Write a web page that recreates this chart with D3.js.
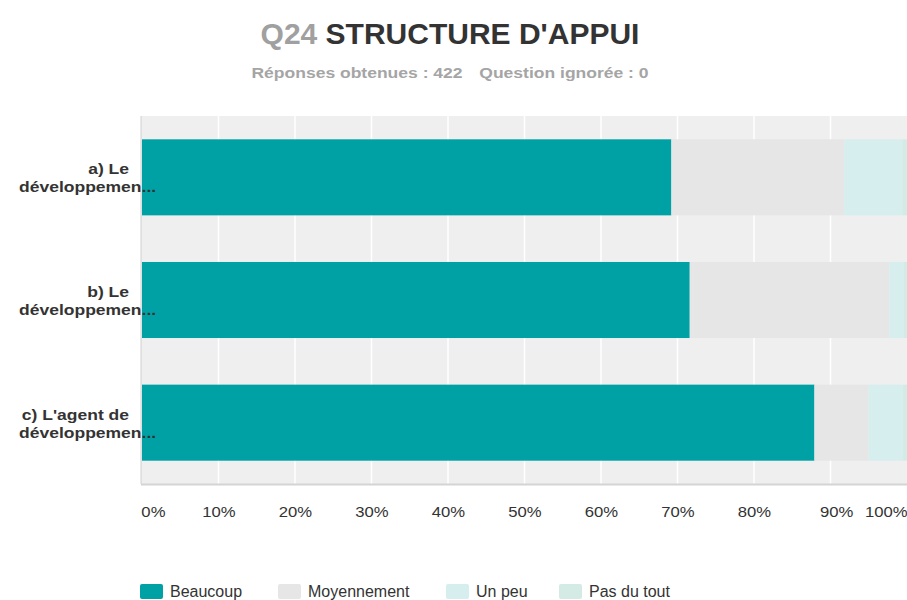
<!DOCTYPE html>
<html>
<head>
<meta charset="utf-8">
<script src="https://cdn.jsdelivr.net/npm/d3@7"></script>
<style>
  body { margin: 0; background: #fff; }
  svg { font-family: "Liberation Sans", Arial, sans-serif; }
</style>
</head>
<body>
<svg id="chart" width="907" height="600"></svg>
<script>
// data (percent)
var questions = ["a) Le|développemen...", "b) Le|développemen...", "c) L'agent de|développemen..."];
var answers = ["Beaucoup", "Moyennement", "Un peu", "Pas du tout"];
var beaucoup    = [69.2, 71.6, 87.9];
var moyennement = [22.6, 26.1, 7.1];
var unPeu       = [7.6, 1.9, 4.5];
var pasDuTout   = [0.6, 0.4, 0.5];
var tickValues = [0, 10, 20, 30, 40, 50, 60, 70, 80, 90, 100];
var colours = ["#00a1a4", "#e6e6e6", "#d6eeee", "#d3ebe4"];

var svg = d3.select("#chart"),
    margin = {top: 116, right: 0, bottom: 116, left: 142},
    width = +svg.attr("width") - margin.left - margin.right,
    height = +svg.attr("height") - margin.top - margin.bottom,
    g = svg.append("g").attr("transform", "translate(" + margin.left + "," + margin.top + ")");

var rows = questions.map(function(q, i) {
  return {q: q, "Beaucoup": beaucoup[i], "Moyennement": moyennement[i], "Un peu": unPeu[i], "Pas du tout": pasDuTout[i]};
});

var x = d3.scaleLinear().domain([0, 100]).range([0, width]);
var y = d3.scaleBand().domain(questions).range([0, height]).paddingInner(0.38).paddingOuter(0.19);
var z = d3.scaleOrdinal().domain(answers).range(colours);

// title
var title = svg.append("text")
    .attr("x", 450).attr("y", 44)
    .attr("text-anchor", "middle")
    .style("font-size", "30px").style("font-weight", "bold");
title.append("tspan").attr("fill", "#a0a0a0").text("Q24 ");
title.append("tspan").attr("fill", "#333").text("STRUCTURE D'APPUI");

// subtitle is a bit wider than tall in the picture
var sub = svg.append("text")
    .attr("transform", "translate(450,78) scale(1.2,1)")
    .attr("text-anchor", "middle")
    .attr("fill", "#a5a5a5")
    .style("font-size", "14.6px").style("font-weight", "bold");
sub.append("tspan").text("Réponses obtenues : 422");
sub.append("tspan").attr("dx", 14).text("Question ignorée : 0");

// plot background
g.append("rect")
    .attr("x", -1).attr("width", width + 1)
    .attr("height", height)
    .attr("fill", "#efefef");

g.append("g")
    .selectAll("line")
    .data(tickValues.slice(1, -1))
    .enter().append("line")
      .attr("x1", function(d) { return x(d); })
      .attr("x2", function(d) { return x(d); })
      .attr("y1", 0).attr("y2", height)
      .attr("stroke", "#fff").attr("stroke-width", 1.5);

g.append("line").attr("x1", -1).attr("x2", -1).attr("y1", 0).attr("y2", height).attr("stroke", "#d0d0d0");
g.append("line").attr("x1", -1).attr("x2", width).attr("y1", height + 0.5).attr("y2", height + 0.5).attr("stroke", "#d4d4d4").attr("stroke-width", 2);

// bars
g.selectAll(".serie")
  .data(d3.stack().keys(answers)(rows))
  .enter().append("g")
    .attr("class", "serie")
    .attr("fill", function(d) { return z(d.key); })
  .selectAll("rect")
  .data(function(d) { return d; })
  .enter().append("rect")
    .attr("y", function(d) { return y(d.data.q); })
    .attr("x", function(d) { return x(d[0]); })
    .attr("width", function(d) { return x(d[1]) - x(d[0]); })
    .attr("height", y.bandwidth());

// category labels, two lines each, slightly stretched like the picture
var lab = g.selectAll(".qlabel")
  .data(questions)
  .enter().append("g")
    .attr("class", "qlabel")
    .attr("transform", function(d) { return "translate(-13," + (y(d) + y.bandwidth() / 2) + ") scale(1.13,1)"; });
lab.append("text")
    .attr("y", -3)
    .attr("text-anchor", "end")
    .attr("fill", "#333")
    .style("font-size", "15.5px").style("font-weight", "bold")
    .text(function(d) { return d.split("|")[0]; });
lab.append("text")
    .attr("x", 24)
    .attr("y", 15)
    .attr("text-anchor", "end")
    .attr("fill", "#333")
    .style("font-size", "15.5px").style("font-weight", "bold")
    .text(function(d) { return d.split("|")[1]; });

// x axis
var axis = g.append("g")
    .attr("transform", "translate(0," + height + ")")
    .call(d3.axisBottom(x).tickValues(tickValues).tickSize(0).tickPadding(23).tickFormat(function(d) { return d + "%"; }));
axis.select(".domain").remove();
axis.selectAll("text")
    .attr("fill", "#333")
    .style("font-size", "14.5px")
    .style("font-family", "Liberation Sans, Arial, sans-serif")
    .attr("transform", "scale(1.15,1)")
    .attr("text-anchor", function(d) { return d === 0 ? "start" : d === 100 ? "end" : "middle"; })
    .attr("dx", function(d) { return d === 90 ? 5 : d === 0 ? -1 : 0; });

// legend
var legendX = [140, 278, 446, 559];
var legend = svg.selectAll(".legend")
  .data(answers)
  .enter().append("g")
    .attr("class", "legend")
    .attr("transform", function(d, i) { return "translate(" + legendX[i] + ",584)"; });
legend.append("rect")
    .attr("width", 23).attr("height", 15)
    .attr("rx", 2)
    .attr("fill", z);
legend.append("text")
    .attr("x", 30).attr("y", 7.5)
    .attr("dy", "0.35em")
    .attr("fill", "#333")
    .style("font-size", "16px")
    .text(function(d) { return d; });
</script>
</body>
</html>
